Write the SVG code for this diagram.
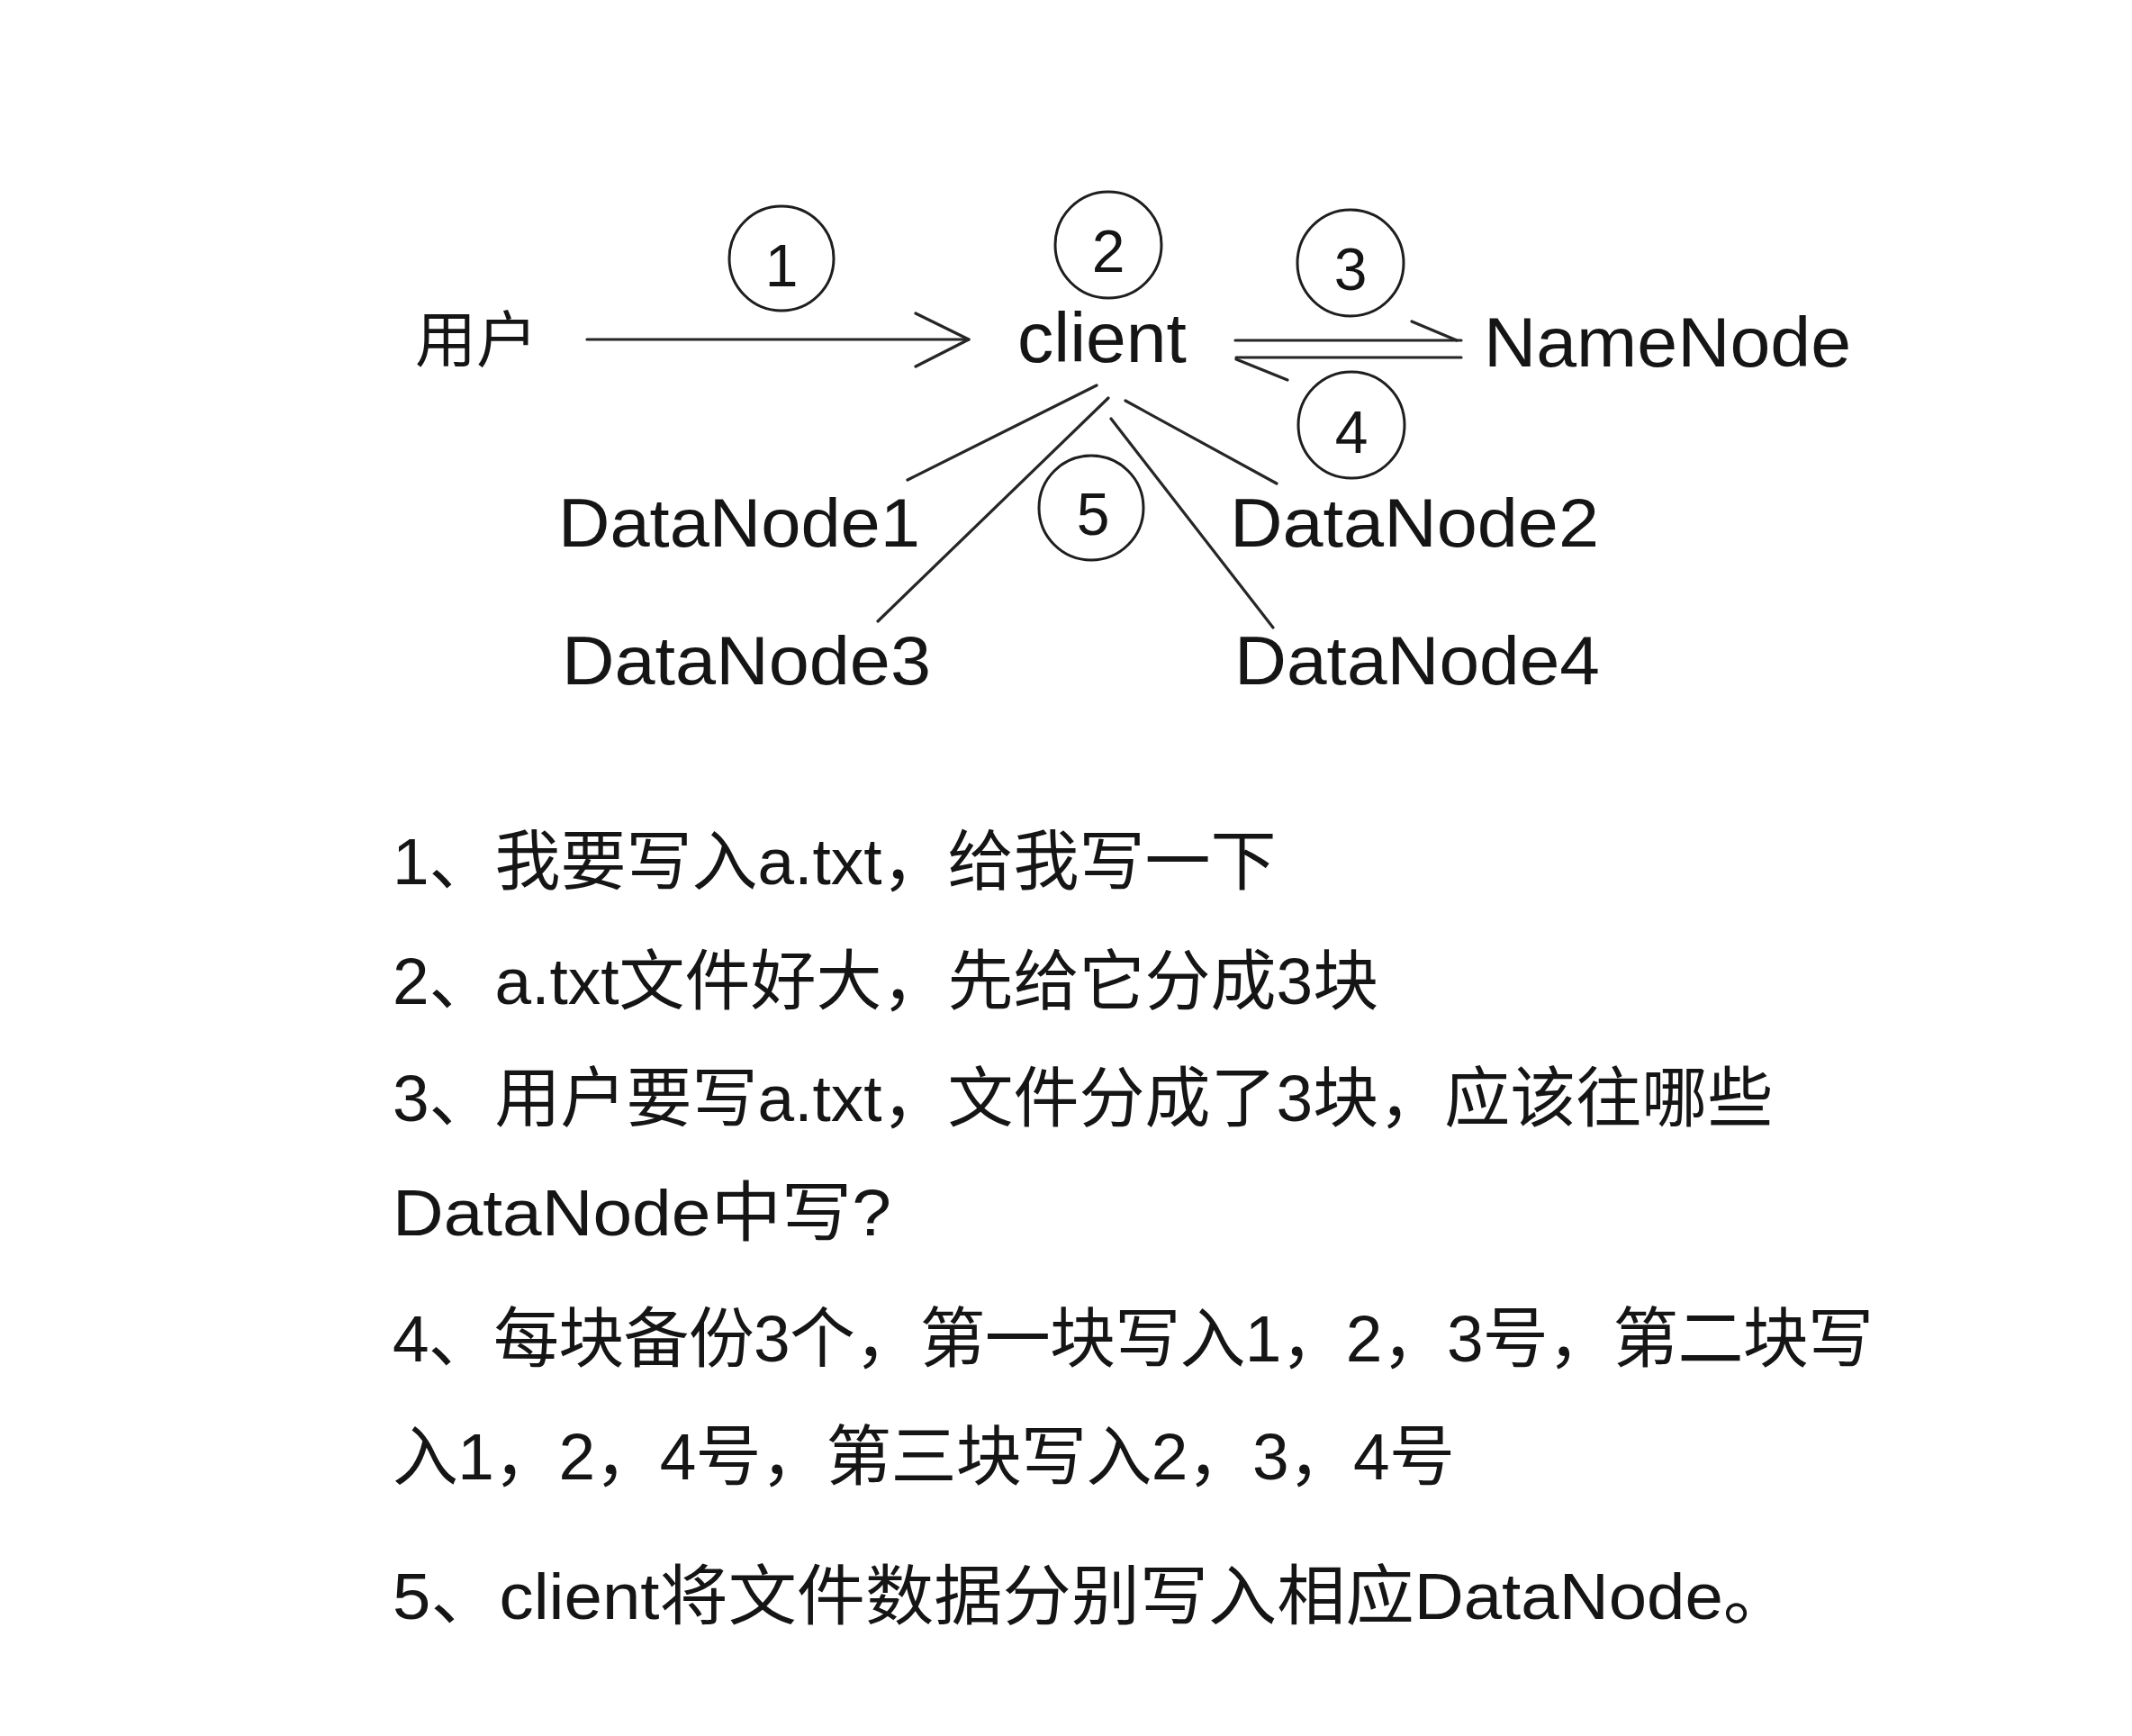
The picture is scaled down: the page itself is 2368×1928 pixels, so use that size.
<svg xmlns="http://www.w3.org/2000/svg" width="2368" height="1928" viewBox="0 0 2368 1928">
  <style>
    .lbl { font-family: "Liberation Sans", "Noto Sans CJK SC", sans-serif; fill: #151515; }
    .cjk { font-family: "Noto Sans CJK SC", sans-serif; fill: #151515; }
    .num { font-family: "Liberation Sans", sans-serif; font-size: 66px; fill: #151515; text-anchor: middle; }
    .ring { fill: none; stroke: #1e1e1e; stroke-width: 3; }
    .edge { fill: none; stroke: #262626; stroke-width: 3.2; stroke-linecap: round; stroke-linejoin: round; }
    .body { font-family: "Liberation Sans", "Noto Sans CJK SC", sans-serif; font-size: 73px; fill: #151515; }
  </style>
  <rect width="2368" height="1928" fill="#ffffff"/>

  <g id="connectors">
    <!-- 1: user -> client -->
    <line class="edge" x1="652" y1="377" x2="1076" y2="377"/>
    <polyline class="edge" points="1017,348 1076,377 1017,407"/>
    <!-- 3: client -> NameNode (upper half arrow) -->
    <line class="edge" x1="1372" y1="378" x2="1623" y2="378"/>
    <line class="edge" x1="1568" y1="357" x2="1618" y2="378"/>
    <!-- 4: NameNode -> client (lower half arrow) -->
    <line class="edge" x1="1373" y1="397" x2="1623" y2="397"/>
    <line class="edge" x1="1373" y1="399" x2="1430" y2="422"/>
    <!-- 5: client -> DataNodes -->
    <line class="edge" x1="1218" y1="428" x2="1008" y2="533"/>
    <line class="edge" x1="1231" y1="442" x2="975" y2="690"/>
    <line class="edge" x1="1250" y1="445" x2="1418" y2="537"/>
    <line class="edge" x1="1234" y1="465" x2="1414" y2="697"/>
  </g>

  <g id="step-markers">
    <g id="step1"><circle class="ring" cx="868" cy="287" r="58"/><text class="num" x="868" y="318">1</text></g>
    <g id="step2"><circle class="ring" cx="1231" cy="272" r="59"/><text class="num" x="1231" y="302">2</text></g>
    <g id="step3"><circle class="ring" cx="1500" cy="292" r="59"/><text class="num" x="1500" y="322">3</text></g>
    <g id="step4"><circle class="ring" cx="1501" cy="472" r="59"/><text class="num" x="1501" y="503">4</text></g>
    <g id="step5"><circle class="ring" cx="1212" cy="564" r="58"/><text class="num" x="1214" y="594">5</text></g>
  </g>

  <g id="node-user"><text class="cjk" x="461" y="402" font-size="68">用户</text></g>
  <g id="node-client"><text class="lbl" x="1130" y="402" font-size="78" textLength="188" lengthAdjust="spacingAndGlyphs">client</text></g>
  <g id="node-namenode"><text class="lbl" x="1648" y="407" font-size="78" textLength="408" lengthAdjust="spacingAndGlyphs">NameNode</text></g>
  <g id="node-datanode1"><text class="lbl" x="620" y="607" font-size="76" textLength="402" lengthAdjust="spacingAndGlyphs">DataNode1</text></g>
  <g id="node-datanode2"><text class="lbl" x="1366" y="607" font-size="76" textLength="410" lengthAdjust="spacingAndGlyphs">DataNode2</text></g>
  <g id="node-datanode3"><text class="lbl" x="624" y="760" font-size="76" textLength="410" lengthAdjust="spacingAndGlyphs">DataNode3</text></g>
  <g id="node-datanode4"><text class="lbl" x="1371" y="760" font-size="76" textLength="406" lengthAdjust="spacingAndGlyphs">DataNode4</text></g>

  <g id="notes">
    <text class="body" x="436" y="982">1、我要写入a.txt，给我写一下</text>
    <text class="body" x="436" y="1115">2、a.txt文件好大，先给它分成3块</text>
    <text class="body" x="436" y="1245">3、用户要写a.txt，文件分成了3块，应该往哪些</text>
    <text class="body" x="436" y="1372" textLength="554" lengthAdjust="spacingAndGlyphs">DataNode中写?</text>
    <text class="body" x="436" y="1512" textLength="1645" lengthAdjust="spacing">4、每块备份3个，第一块写入1，2，3号，第二块写</text>
    <text class="body" x="436" y="1643" textLength="1180" lengthAdjust="spacing">入1，2，4号，第三块写入2，3，4号</text>
    <text class="body" x="436" y="1798" textLength="1554" lengthAdjust="spacingAndGlyphs">5、client将文件数据分别写入相应DataNode。</text>
  </g>
</svg>
